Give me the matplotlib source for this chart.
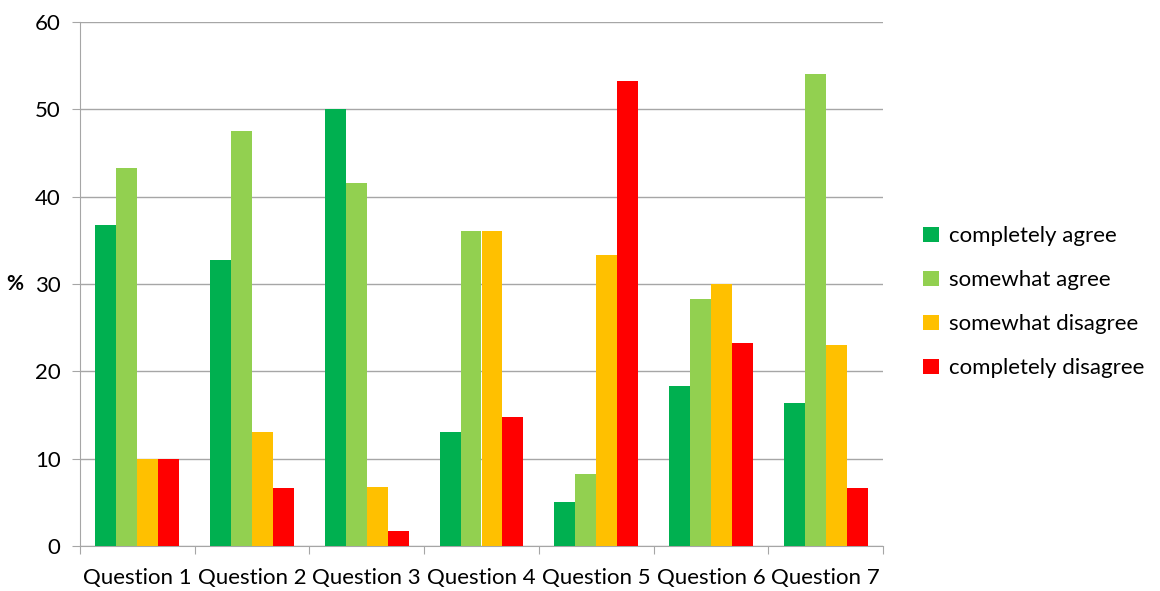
import numpy as np
import matplotlib
matplotlib.use('Agg')
from matplotlib import pyplot as plt

questions = ['Question 1', 'Question 2', 'Question 3', 'Question 4',
             'Question 5', 'Question 6', 'Question 7']
series_names = ['completely agree', 'somewhat agree', 'somewhat disagree', 'completely disagree']
completely_agree = [36.7, 32.8, 50.0, 13.1, 5.0, 18.3, 16.4]
somewhat_agree = [43.3, 47.5, 41.6, 36.1, 8.3, 28.3, 54.1]
somewhat_disagree = [10.0, 13.1, 6.7, 36.1, 33.3, 30.0, 23.0]
completely_disagree = [10.0, 6.6, 1.7, 14.8, 53.3, 23.3, 6.6]
colors = ['#00B050', '#92D050', '#FFC000', '#FF0000']


def main():
    plt.rcParams['font.family'] = ['Lato', 'DejaVu Sans']
    fig = plt.figure(figsize=(11.6, 5.91), dpi=100)
    ax = fig.add_axes([80 / 1160, 1 - 546 / 591, 803 / 1160, 524 / 591])

    all_series = [completely_agree, somewhat_agree, somewhat_disagree, completely_disagree]
    x = np.arange(len(questions))
    width = 0.183
    for i, (vals, name) in enumerate(zip(all_series, series_names)):
        ax.bar(x + (i - 1.5) * width, vals, width, color=colors[i], label=name, zorder=3)

    ax.set_xlim(-0.5, len(questions) - 0.5)
    ax.set_ylim(0, 60)
    ax.set_yticks(range(0, 61, 10))
    ax.yaxis.grid(True, color='#a6a6a6', linewidth=1, zorder=0)
    ax.set_axisbelow(True)

    # category labels between tick marks
    ax.set_xticks(np.arange(-0.5, len(questions), 1))
    ax.set_xticklabels([])
    ax.set_xticks(x, minor=True)
    ax.set_xticklabels(questions, minor=True)
    ax.tick_params(axis='x', which='major', length=6, color='#a6a6a6', direction='out')
    ax.tick_params(axis='x', which='minor', length=0, pad=16, labelsize=16)
    ax.tick_params(axis='y', length=6, color='#a6a6a6', labelsize=16, pad=8)

    for s in ['top', 'right']:
        ax.spines[s].set_visible(False)
    ax.spines['left'].set_color('#a6a6a6')
    ax.spines['bottom'].set_color('#a6a6a6')

    ax.set_ylabel('%', rotation=0, fontsize=15, fontweight='bold', labelpad=14, va='center')

    ax.legend(loc='center left', bbox_to_anchor=(1.025, 0.465), frameon=False,
              fontsize=16, handlelength=0.7, handleheight=0.7,
              handletextpad=0.45, labelspacing=1.08)

    fig.savefig('out.png', dpi=100)


if __name__ == '__main__':
    main()
